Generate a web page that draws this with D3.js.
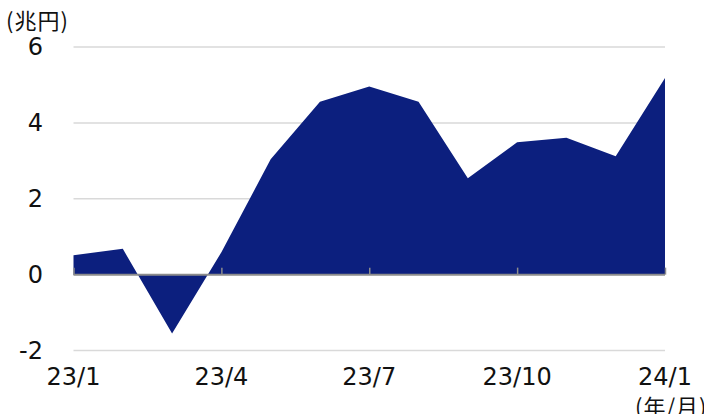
<!DOCTYPE html>
<html>
<head>
<meta charset="utf-8">
<script src="https://cdn.jsdelivr.net/npm/d3@7"></script>
<style>
  html, body { margin: 0; padding: 0; background: #fff; }
  svg { display: block; }
  text { font-family: "DejaVu Sans", Verdana, "Noto Sans CJK JP", sans-serif; fill: #111; }
  .cjk { font-family: "Noto Sans CJK JP", sans-serif; }
</style>
</head>
<body>
<svg id="chart" width="704" height="414"></svg>
<script>
// monthly values, 2023/1 .. 2024/1 (trillion yen)
const months = ['23/1', '23/2', '23/3', '23/4', '23/5', '23/6', '23/7',
                '23/8', '23/9', '23/10', '23/11', '23/12', '24/1'];
const values = [0.51, 0.68, -1.55, 0.59, 3.04, 4.56, 4.96, 4.56, 2.54, 3.49, 3.61, 3.12, 5.18];
const yTicks = [-2, 0, 2, 4, 6];
const xTickLabels = ['23/1', '23/4', '23/7', '23/10', '24/1'];

const svg = d3.select('#chart');

const x = d3.scalePoint()
    .domain(months)
    .range([73.5, 665]);

const y = d3.scaleLinear()
    .domain([-2, 6])
    .range([350.5, 47]);

// gridlines (behind the area)
svg.append('g')
    .selectAll('line')
    .data(yTicks.filter(d => d !== 0))
    .join('line')
    .attr('x1', x.range()[0])
    .attr('x2', x.range()[1])
    .attr('y1', d => y(d))
    .attr('y2', d => y(d))
    .attr('stroke', '#d9d9d9')
    .attr('stroke-width', 1.5);

// area to zero
const area = d3.area()
    .x((d, i) => x(months[i]))
    .y0(y(0))
    .y1(d => y(d));

svg.append('path')
    .datum(values)
    .attr('d', area)
    .attr('fill', '#0c1f7e');

// zero axis with quarterly ticks pointing up
const axisG = svg.append('g')
    .attr('transform', `translate(0,${y(0)})`)
    .call(d3.axisBottom(x).tickValues(xTickLabels).tickSize(-7).tickFormat(''));
axisG.select('.domain')
    .attr('d', `M${x.range()[0]},0H${x.range()[1]}`)
    .attr('stroke', '#8c8c8c')
    .attr('stroke-width', 2);
axisG.selectAll('.tick line')
    .attr('stroke', '#8c8c8c')
    .attr('stroke-width', 1.5);

// y tick labels
svg.append('g')
    .selectAll('text')
    .data(yTicks)
    .join('text')
    .attr('x', 43)
    .attr('y', d => y(d))
    .attr('dy', '0.35em')
    .attr('text-anchor', 'end')
    .attr('font-size', 24)
    .text(d => d);

// x tick labels along the bottom
svg.append('g')
    .selectAll('text')
    .data(xTickLabels)
    .join('text')
    .attr('x', d => x(d))
    .attr('y', 385)
    .attr('text-anchor', 'middle')
    .attr('font-size', 24)
    .text(d => d);

// unit labels
svg.append('text')
    .attr('class', 'cjk')
    .attr('x', 6)
    .attr('y', 29)
    .attr('font-size', 22)
    .attr('letter-spacing', 1)
    .text('(兆円)');

svg.append('text')
    .attr('class', 'cjk')
    .attr('x', 635)
    .attr('y', 415)
    .attr('font-size', 22)
    .attr('letter-spacing', 1)
    .text('(年/月)');
</script>
</body>
</html>
